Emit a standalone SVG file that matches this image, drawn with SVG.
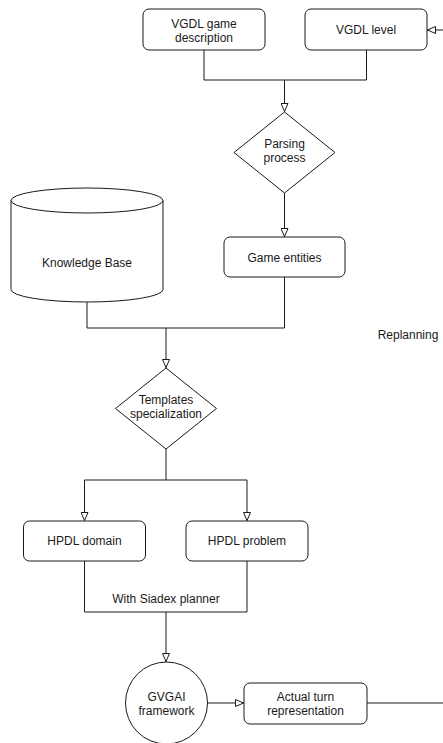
<svg xmlns="http://www.w3.org/2000/svg" width="443" height="743" viewBox="0 0 443 743">
<style>
.n{fill:#fff;stroke:#1a1a1a;stroke-width:1}
.t{font-family:"Liberation Sans",Arial,sans-serif;font-size:12px;fill:#1a1a1a;text-anchor:middle}
.c{fill:none;stroke:#1a1a1a;stroke-width:1}
</style>
<defs>
<marker id="a" markerUnits="userSpaceOnUse" viewBox="0 0 9 8" markerWidth="9" markerHeight="8" refX="9" refY="4" orient="auto">
<path d="M0.5,0.5 L8.5,4 L0.5,7.5 Z" fill="#fff" stroke="#1a1a1a" stroke-width="1"/>
</marker>
</defs>
<rect width="443" height="743" fill="#fff"/>
<g id="connectors">
<path class="c" d="M204,50 V80 H284.5 V112" marker-end="url(#a)"/>
<path class="c" d="M366.5,50 V80 H284.5"/>
<path class="c" d="M284.5,193 V237" marker-end="url(#a)"/>
<path class="c" d="M87,302 V328 H166 V368" marker-end="url(#a)"/>
<path class="c" d="M284.5,277 V328 H166"/>
<path class="c" d="M166,449 V480 H84.5 V521" marker-end="url(#a)"/>
<path class="c" d="M166,480 H247 V521" marker-end="url(#a)"/>
<path class="c" d="M84.5,561 V612 H166 V662" marker-end="url(#a)"/>
<path class="c" d="M247,561 V612 H166"/>
<path class="c" d="M207.5,703 H244" marker-end="url(#a)"/>
<path class="c" d="M367,703 H452 V30 H427" marker-end="url(#a)"/>
<text class="t" x="166" y="603">With Siadex planner</text>
<text class="t" x="408" y="339">Replanning</text>
</g>
<g id="vgdl-desc">
<rect class="n" x="143" y="9" width="122" height="41" rx="6"/>
<text class="t" x="204" y="28">VGDL game</text>
<text class="t" x="204" y="42">description</text>
</g>
<g id="vgdl-level">
<rect class="n" x="305" y="9" width="122" height="41" rx="6"/>
<text class="t" x="366" y="34">VGDL level</text>
</g>
<g id="parsing">
<path class="n" d="M284.5,112 L335,152.5 L284.5,193 L234,152.5 Z"/>
<text class="t" x="284.5" y="148">Parsing</text>
<text class="t" x="284.5" y="162">process</text>
</g>
<g id="knowledge-base">
<path class="n" d="M11,200.5 A76,12.5 0 0 1 163,200.5 V289.5 A76,12.5 0 0 1 11,289.5 Z"/>
<path class="c" d="M11,200.5 A76,12.5 0 0 0 163,200.5"/>
<text class="t" x="87" y="267">Knowledge Base</text>
</g>
<g id="game-entities">
<rect class="n" x="224" y="237" width="121" height="40" rx="6"/>
<text class="t" x="284.5" y="262">Game entities</text>
</g>
<g id="templates">
<path class="n" d="M166,368 L216.5,408.5 L166,449 L115.5,408.5 Z"/>
<text class="t" x="166" y="404">Templates</text>
<text class="t" x="166" y="418">specialization</text>
</g>
<g id="hpdl-domain">
<rect class="n" x="23.5" y="521" width="122" height="40" rx="6"/>
<text class="t" x="84.5" y="545">HPDL domain</text>
</g>
<g id="hpdl-problem">
<rect class="n" x="186" y="521" width="122" height="40" rx="6"/>
<text class="t" x="247" y="545">HPDL problem</text>
</g>
<g id="gvgai">
<circle class="n" cx="166.5" cy="703" r="41"/>
<text class="t" x="166.5" y="701">GVGAI</text>
<text class="t" x="166.5" y="715">framework</text>
</g>
<g id="actual-turn">
<rect class="n" x="244" y="683" width="123" height="41" rx="6"/>
<text class="t" x="305.5" y="701">Actual turn</text>
<text class="t" x="305.5" y="715">representation</text>
</g>
</svg>
